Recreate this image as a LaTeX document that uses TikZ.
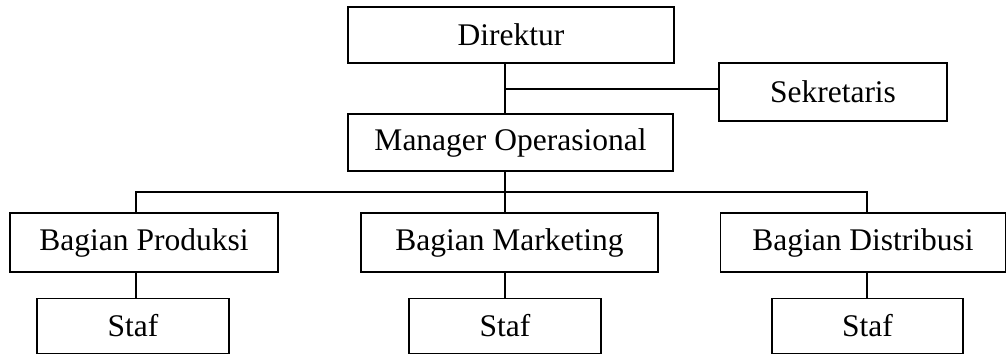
\documentclass[tikz,border=0pt]{standalone}
\usepackage{fontspec}
\setmainfont{Liberation Serif}
\usetikzlibrary{positioning,calc}

\begin{document}
\begin{tikzpicture}[x=1pt,y=-1pt,
      box/.style={draw,line width=1.2pt,inner sep=0pt,minimum height=57pt,align=center,font=\fontsize{31.5}{36}\selectfont},
      link/.style={line width=1.2pt}]
    \useasboundingbox (0,0) rectangle (1006,354);
    % top
    \node[box,minimum width=326pt,minimum height=56pt] (dir) at (511,35) {Direktur};
    \node[box,minimum width=228pt,minimum height=58pt] (sek) at (833,92) {Sekretaris};
    \node[box,minimum width=325pt] (mgr) at (510.5,142.5) {Manager Operasional};
    % bagian
    \node[box,minimum width=268pt,minimum height=59pt] (prod) at (144,242.5) {Bagian Produksi};
    \node[box,minimum width=297pt,minimum height=59pt] (mkt) at (509.5,242.5) {Bagian Marketing};
    \node[box,minimum width=285pt,minimum height=59pt] (dist) at (863,242.5) {Bagian Distribusi};
    % staf
    \node[box,minimum width=192pt,minimum height=55pt] (staf1) at (133,325.7) {Staf};
    \node[box,minimum width=192pt,minimum height=55pt] (staf2) at (505,325.7) {Staf};
    \node[box,minimum width=191pt,minimum height=55pt] (staf3) at (867.5,325.7) {Staf};
    % connectors
    \coordinate (spine) at (505,89);
    \coordinate (bus) at (505,192);
    \coordinate (busL) at (136,192);
    \coordinate (busR) at (867,192);
    \draw[link] (dir.south -| spine) -- (mgr.north -| spine);
    \draw[link] (spine) -- (sek.west |- spine);
    \draw[link] (mgr.south -| bus) -- (bus);
    \draw[link] (prod.north -| busL) -- (busL) -- (busR) -- (dist.north -| busR);
    \draw[link] (bus) -- (mkt.north -| bus);
    \draw[link] (prod.south -| busL) -- (staf1.north -| busL);
    \draw[link] (mkt.south -| bus) -- (staf2.north -| bus);
    \draw[link] (dist.south -| busR) -- (staf3.north -| busR);
  \end{tikzpicture}
\end{document}
